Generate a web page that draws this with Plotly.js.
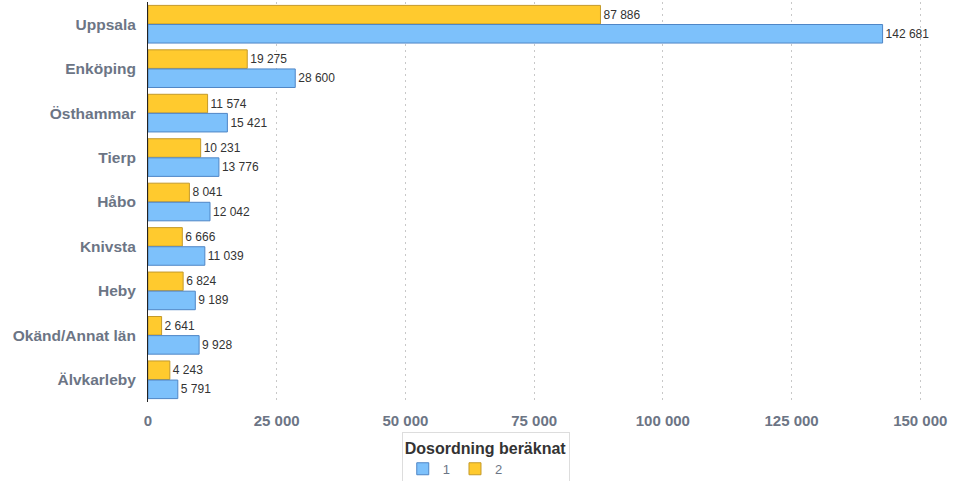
<!DOCTYPE html>
<html><head><meta charset="utf-8">
<script src="https://cdn.plot.ly/plotly-3.0.1.min.js"></script>
<style>html,body{margin:0;padding:0;background:#fff}#chart{width:953px;height:481px}</style>
</head><body><div id="chart"></div>
<script>
const categories = ["Uppsala","Enköping","Östhammar","Tierp","Håbo","Knivsta","Heby","Okänd/Annat län","Älvkarleby"];
const series1 = [142681,28600,15421,13776,12042,11039,9189,9928,5791];
const series2 = [87886,19275,11574,10231,8041,6666,6824,2641,4243];
const seriesNames = ["1","2"];
const legendTitle = "Dosordning beräknat";
const xTicks = [0,25000,50000,75000,100000,125000,150000];

const common = {type:'bar', orientation:'h', y:categories, textposition:'outside', cliponaxis:false,
  texttemplate:'%{x:,}', textfont:{family:'Liberation Sans, Arial, sans-serif', size:12, color:'#333333'},
  hoverinfo:'x+y'};
const traces = [
  Object.assign({}, common, {name:seriesNames[1], x:series2, marker:{color:'#FFCA2E', line:{color:'#C49A2A', width:1}}}),
  Object.assign({}, common, {name:seriesNames[0], x:series1, marker:{color:'#7DC1FB', line:{color:'#4F86C6', width:1}}})
];
const layout = {
  width:953, height:481, margin:{l:148, r:7, t:2, b:79, autoexpand:false},
  paper_bgcolor:'#fff', plot_bgcolor:'#fff',
  separators:', ',
  barmode:'group', bargap:0.14, bargroupgap:0.03,
  font:{family:'Liberation Sans, Arial, sans-serif'},
  xaxis:{range:[0,155000], tickvals:xTicks, tickformat:',', showgrid:true, gridcolor:'#c8c8c8', griddash:'2px,4px', gridwidth:1,
    zeroline:false, showline:false, ticks:'', ticklabelstandoff:8, automargin:false,
    tickfont:{size:15, color:'#6C7585', weight:'bold'}},
  yaxis:{autorange:'reversed', showline:true, linecolor:'#222', linewidth:1, ticks:'', ticklabelstandoff:8, automargin:false,
    showgrid:false, tickfont:{size:15.5, color:'#6C7585', weight:'bold'}},
  showlegend:true,
  legend:{orientation:'h', x:0.318, xanchor:'left', y:-0.075, yanchor:'top', traceorder:'reversed',
    bordercolor:'#dddddd', borderwidth:1, bgcolor:'#fff',
    title:{text:'<b>'+legendTitle+'</b>', side:'top', font:{size:16, color:'#333'}},
    font:{size:13, color:'#6C7585'}, itemwidth:30}
};
Plotly.newPlot('chart', traces, layout, {displayModeBar:false, staticPlot:true});
</script></body></html>
